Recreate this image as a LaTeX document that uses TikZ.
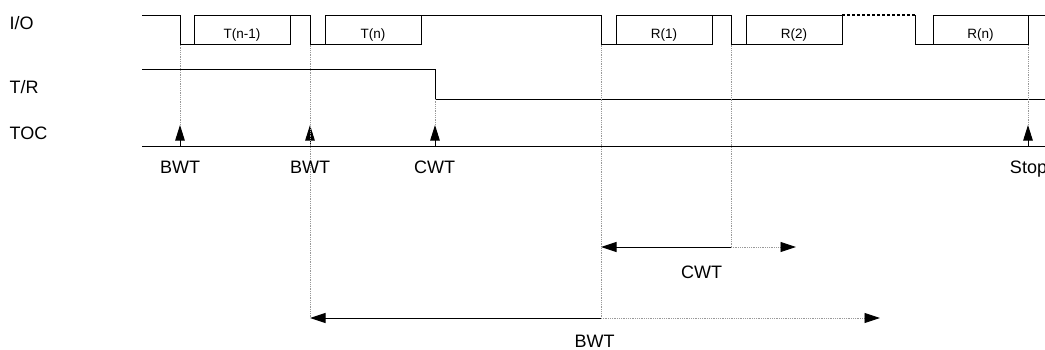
\documentclass[tikz,border=0pt]{standalone}
\usepackage{fontspec}
\setmainfont{Liberation Sans}
\usetikzlibrary{arrows.meta}
\begin{document}
\begin{tikzpicture}[x=1pt,y=-1pt,
  wave/.style={line width=1pt, black},
  guide/.style={line width=0.9pt, gray!80, dash pattern=on 1pt off 0.8pt},
  iodots/.style={line width=1.3pt, black, dash pattern=on 3pt off 2pt},
  slot/.style={draw, line width=1pt, minimum height=29.5pt, inner sep=0pt, outer sep=0pt, anchor=north west},
  slotlabel/.style={font=\fontsize{13.5}{15}\selectfont, anchor=base, inner sep=0pt},
  lbl/.style={font=\fontsize{18}{20}\selectfont, inner sep=0pt},
  uparrow/.style={wave, -{Triangle[length=15.5pt,width=9.5pt]}},
  tipL/.style={{Triangle[length=15.5pt,width=10pt]}-},
  tipR/.style={-{Triangle[length=15.5pt,width=10pt,color=black]}}
]
\useasboundingbox (0,0) rectangle (1045,349);

% signal names
\node[lbl, anchor=base west] (io) at (9.5,29.3) {I/O};
\node[lbl, anchor=base west] (tr) at (9.5,93.3) {T/R};
\node[lbl, anchor=base west] (toc) at (9.5,139.3) {TOC};

% I/O slots
\node[slot, minimum width=96pt] (Tn1) at (194,15) {};
\node[slot, minimum width=96pt] (Tn) at (325,15) {};
\node[slot, minimum width=96pt] (R1) at (616,15) {};
\node[slot, minimum width=96pt] (R2) at (746,15) {};
\node[slot, minimum width=95pt] (Rn) at (933,15) {};
\node[slotlabel] (Tn1t) at ([yshift=6.5pt]Tn1.south) {T(n-1)};
\node[slotlabel] (Tnt) at ([yshift=6.5pt]Tn.south) {T(n)};
\node[slotlabel] (R1t) at ([yshift=6.5pt]R1.south) {R(1)};
\node[slotlabel] (R2t) at ([yshift=6.5pt]R2.south) {R(2)};
\node[slotlabel] (Rnt) at ([yshift=6.5pt]Rn.south) {R(n)};

% fall points of I/O
\coordinate (f1) at (180,44.5);
\coordinate (f2) at (310,44.5);
\coordinate (f3) at (601,44.5);
\coordinate (f4) at (731,44.5);
\coordinate (f5) at (915,44.5);
\coordinate (endR) at (1028,44.5);

% I/O waveform
\draw[wave] (142,15) -- (f1 |- Tn1.north) -- (f1) -- (Tn1.south west);
\draw[wave] (Tn1.north east) -- (f2 |- Tn.north) -- (f2) -- (Tn.south west);
\draw[wave] (Tn.north east) -- (f3 |- R1.north) -- (f3) -- (R1.south west);
\draw[wave] (R1.north east) -- (f4 |- R2.north) -- (f4) -- (R2.south west);
\draw[iodots] (R2.north east) -- (f5 |- Rn.north);
\draw[wave] (f5 |- Rn.north) -- (f5) -- (Rn.south west);
\draw[wave] (Rn.north east) -- (1045,15);

% T/R waveform
\coordinate (trdrop) at (435,99);
\draw[wave] (142,69) -- (trdrop |- 0,69) -- (trdrop) -- (1045,99);

% TOC axis
\draw[wave] (142,146) -- (1045,146);

% event arrows on TOC
\coordinate (a1) at (180,125);
\coordinate (a2) at (310,125);
\coordinate (a3) at (435,125);
\coordinate (a4) at (1028,125);
\draw[uparrow] (180,146) -- (a1);
\draw[uparrow] (310,146) -- (a2);
\draw[uparrow] (435,146) -- (a3);
\draw[uparrow] (1028,146) -- (a4);

% guide lines
\coordinate (cwtL) at (601,247);
\coordinate (cwtM) at (731,247);
\coordinate (cwtR) at (796,247);
\coordinate (bwtL) at (310,318);
\coordinate (bwtM) at (601,318);
\coordinate (bwtR) at (880,318);
\draw[guide] (a1) -- (f1);
\draw[guide] (f2) -- (bwtL);
\draw[guide] (a3) -- (trdrop);
\draw[guide] (f3) -- (bwtM);
\draw[guide] (f4) -- (cwtM);
\draw[guide] (a4) -- (endR);

% labels under TOC
\node[lbl, anchor=base] (l1) at (180,173) {BWT};
\node[lbl, anchor=base] (l2) at (310,173) {BWT};
\node[lbl, anchor=base] (l3) at (434.5,173) {CWT};
\node[lbl, anchor=base] (l4) at (1028.5,173) {Stop};

% CWT interval
\draw[wave, tipL] (cwtL) -- (cwtM);
\draw[guide, tipR] (cwtM) -- (cwtR);
\node[lbl, anchor=base] (cwtlbl) at (701.5,278.3) {CWT};

% BWT interval
\draw[wave, tipL] (bwtL) -- (bwtM);
\draw[guide, tipR] (bwtM) -- (bwtR);
\node[lbl, anchor=base] (bwtlbl) at (594.5,347) {BWT};
\end{tikzpicture}
\end{document}
